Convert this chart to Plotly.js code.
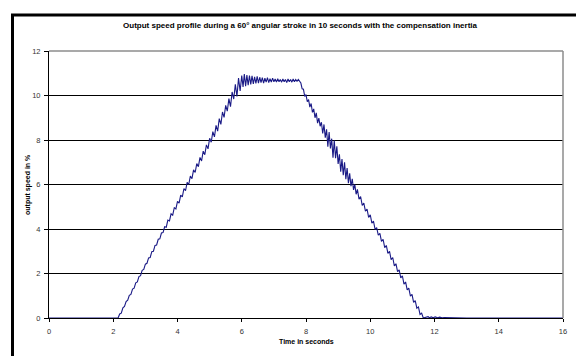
<!DOCTYPE html>
<html>
<head>
<meta charset="utf-8">
<script src="https://cdn.plot.ly/plotly-3.0.1.min.js"></script>
<style>html,body{margin:0;padding:0;background:#fff;}#chart{width:576px;height:356px;}</style>
</head>
<body>
<div id="chart"></div>
<script>
// Time samples (s) and output speed (%), segment by segment
var tZero = [0, 1.0, 2.0, 2.15];
var vZero = [0, 0, 0, 0];

var tRise = [2.20,2.25,2.30,2.35,2.40,2.45,2.50,2.55,2.60,2.65,2.70,2.75,2.80,2.85,2.90,2.95,3.00,3.05,3.10,3.15,3.20,3.25,3.30,3.35,3.40,3.45,3.50,3.55,3.60,3.65,3.70,3.75,3.80,3.85,3.90,3.95,4.00,4.05,4.10,4.15,4.20,4.25,4.30,4.35,4.40,4.45,4.50,4.55,4.60,4.65,4.70,4.75,4.80,4.85,4.90,4.95,5.00,5.05,5.10,5.15,5.20,5.25,5.30,5.35,5.40,5.45,5.50,5.55,5.60,5.65,5.70,5.75,5.80,5.85,5.90,5.95,6.00];
var vRise = [0.18,0.22,0.46,0.52,0.74,0.80,1.02,1.06,1.30,1.34,1.58,1.62,1.86,1.90,2.14,2.18,2.42,2.46,2.70,2.72,2.98,3.00,3.26,3.28,3.54,3.56,3.82,3.84,4.10,4.08,4.40,4.36,4.68,4.62,4.96,4.90,5.24,5.16,5.52,5.44,5.82,5.72,6.10,6.00,6.38,6.26,6.66,6.54,6.94,6.80,7.22,7.06,7.50,7.34,7.78,7.60,8.08,7.90,8.38,8.14,8.66,8.40,8.96,8.70,9.26,9.02,9.56,9.30,9.86,9.50,10.16,9.84,10.50,9.96,10.78,10.20,10.90];

var tTop = [6.04,6.08,6.12,6.16,6.20,6.24,6.28,6.32,6.36,6.40,6.44,6.48,6.52,6.56,6.60,6.64,6.68,6.72,6.76,6.80,6.84,6.88,6.92,6.96,7.00,7.04,7.08,7.12,7.16,7.20,7.24,7.28,7.32,7.36,7.40,7.44,7.48,7.52,7.56,7.60,7.64,7.68,7.72,7.76,7.80];
var vTop = [10.38,10.96,10.42,10.92,10.46,10.90,10.50,10.88,10.52,10.84,10.54,10.86,10.56,10.82,10.58,10.80,10.56,10.78,10.60,10.80,10.58,10.76,10.60,10.78,10.62,10.74,10.60,10.76,10.62,10.72,10.60,10.74,10.62,10.72,10.58,10.74,10.62,10.72,10.60,10.74,10.62,10.72,10.64,10.72,10.66];

var tFall = [7.84,7.88,7.92,7.96,8.00,8.04,8.08,8.12,8.16,8.20,8.24,8.28,8.32,8.36,8.40,8.44,8.48,8.52,8.56,8.60,8.64,8.68,8.72,8.76,8.80,8.84,8.88,8.92,8.96,9.00,9.04,9.08,9.12,9.16,9.20,9.24,9.28,9.32,9.36,9.40,9.44,9.48,9.52,9.56,9.60,9.65,9.70,9.75,9.80,9.85,9.90,9.95,10.00,10.05,10.10,10.15,10.20,10.25,10.30,10.35,10.40,10.45,10.50,10.55,10.60,10.65,10.70,10.75,10.80,10.85,10.90,10.95,11.00,11.05,11.10,11.15,11.20,11.25,11.30,11.35,11.40,11.45,11.50,11.55,11.60,11.65];
var vFall = [10.56,10.30,10.28,9.96,10.04,9.72,9.82,9.48,9.64,9.24,9.40,9.00,9.22,8.76,8.98,8.62,8.80,8.30,8.70,8.10,8.48,7.70,8.36,7.62,8.06,7.20,7.98,7.18,7.72,6.92,7.36,6.58,7.14,6.42,7.00,6.24,6.74,6.06,6.50,5.92,6.26,5.76,6.00,5.56,5.78,5.34,5.46,5.06,5.16,4.80,4.90,4.52,4.64,4.26,4.36,3.98,4.06,3.72,3.80,3.44,3.54,3.16,3.26,2.90,3.00,2.62,2.72,2.34,2.44,2.08,2.16,1.80,1.90,1.52,1.62,1.26,1.34,0.98,1.06,0.70,0.78,0.44,0.50,0.16,0.22,0.00];

var tTail = [11.72,11.80,11.84,11.90,11.96,12.02,12.10,12.16,12.24,12.30,13.0,14.0,15.0,16.0];
var vTail = [0.02,0.06,0.01,0.05,0.01,0.05,0.01,0.04,0.01,0.02,0,0,0,0];

var xTicks = [0,2,4,6,8,10,12,14,16];
var yTicks = [0,2,4,6,8,10,12];

var t = tZero.concat(tRise, tTop, tFall, tTail);
var v = vZero.concat(vRise, vTop, vFall, vTail);

var font = "Liberation Sans, Arial, sans-serif";
var L = 49, R = 563, T = 51, B = 318, W = 576, H = 356;
function px(x){ return (x - L) / (R - L); }
function py(y){ return (B - y) / (B - T); }

var trace = {
  x: t, y: v, type: 'scatter', mode: 'lines',
  line: {color: '#1a1a86', width: 1.1},
  hoverinfo: 'skip'
};

var layout = {
  width: W, height: H,
  margin: {l: L, r: W - R, t: T, b: H - B, pad: 0},
  paper_bgcolor: '#ffffff', plot_bgcolor: '#ffffff',
  showlegend: false,
  title: {
    text: '<b>Output speed profile during a 60° angular stroke in 10 seconds with the compensation inertia</b>',
    font: {family: font, size: 8, color: '#000'},
    x: 300 / W, xref: 'container', xanchor: 'center',
    y: 1 - 25 / H, yref: 'container', yanchor: 'middle'
  },
  xaxis: {
    range: [0, 16], tickvals: xTicks, ticktext: xTicks.map(String),
    showgrid: false, zeroline: false,
    showline: true, linecolor: '#000', linewidth: 1,
    ticks: 'outside', ticklen: 3, tickcolor: '#000', tickwidth: 1,
    ticklabelstandoff: 3,
    tickfont: {family: font, size: 7.5, color: '#333'},
    fixedrange: true
  },
  yaxis: {
    range: [0, 12], tickvals: yTicks, ticktext: yTicks.map(String),
    showgrid: true, gridcolor: '#000', gridwidth: 1,
    zeroline: false,
    showline: true, linecolor: '#000', linewidth: 1,
    ticks: 'outside', ticklen: 4, tickcolor: '#000', tickwidth: 1,
    ticklabelstandoff: 2,
    tickfont: {family: font, size: 7.5, color: '#333'},
    fixedrange: true
  },
  shapes: [
    {type: 'line', xref: 'paper', yref: 'paper', x0: 0, x1: 1, y0: 1, y1: 1, line: {color: '#8c8c8c', width: 1.5}, layer: 'above'},
    {type: 'line', xref: 'paper', yref: 'paper', x0: 1, x1: 1, y0: 0, y1: 1, line: {color: '#8c8c8c', width: 1.5}, layer: 'above'},
    {type: 'line', xref: 'paper', yref: 'paper', x0: px(12.5), x1: px(12.5), y0: py(14), y1: py(400), line: {color: '#000', width: 3}, layer: 'above'},
    {type: 'line', xref: 'paper', yref: 'paper', x0: px(11), x1: px(620), y0: py(15), y1: py(15), line: {color: '#000', width: 3}, layer: 'above'}
  ],
  annotations: [
    {text: '<b>Time in seconds</b>', xref: 'paper', yref: 'paper', x: px(306), y: py(341),
     xanchor: 'center', yanchor: 'middle', showarrow: false, font: {family: font, size: 7, color: '#000'}},
    {text: '<b>output speed in %</b>', xref: 'paper', yref: 'paper', x: px(28), y: py(185),
     xanchor: 'center', yanchor: 'middle', textangle: -90, showarrow: false, font: {family: font, size: 7, color: '#000'}}
  ]
};

Plotly.newPlot('chart', [trace], layout, {displayModeBar: false, staticPlot: true});
</script>
</body>
</html>
